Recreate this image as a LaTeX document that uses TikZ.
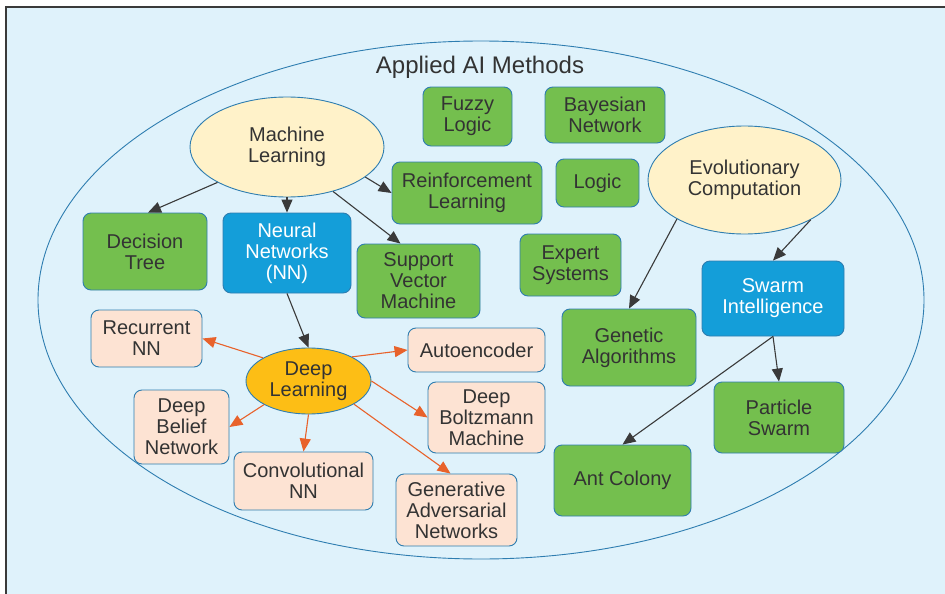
\documentclass[tikz,border=0pt]{standalone}
\usepackage{fontspec}
\setmainfont{Liberation Sans}
\usetikzlibrary{shapes.geometric,arrows.meta}

\definecolor{bgblue}{HTML}{DFF2FB}
\definecolor{framegray}{HTML}{3A3A3A}
\definecolor{lineblue}{HTML}{2E7DB0}
\definecolor{boxgreen}{HTML}{74BF4E}
\definecolor{boxblue}{HTML}{149ED9}
\definecolor{boxpeach}{HTML}{FDE3D3}
\definecolor{bubblecream}{HTML}{FFF2C9}
\definecolor{dlyellow}{HTML}{FDBE15}
\definecolor{arrorange}{HTML}{E8622B}
\definecolor{txtgray}{HTML}{333333}

\begin{document}
\begin{tikzpicture}[x=1pt,y=-1pt,
    every node/.style={font=\fontsize{20}{21}\selectfont,text=txtgray,align=center},
    box/.style={rectangle,rounded corners=8pt,draw=lineblue,line width=0.9pt,fill=boxgreen,inner sep=0pt},
    nnbox/.style={box,fill=boxblue,text=white},
    dlbox/.style={box,fill=boxpeach},
    bubble/.style={ellipse,draw=lineblue,line width=0.9pt,fill=bubblecream,inner sep=0pt},
    arr/.style={-{Triangle[length=13pt,width=11pt]},line width=1.1pt,draw=framegray},
    dlarr/.style={arr,draw=arrorange}
    ]

    \useasboundingbox (0,0) rectangle (945,594);
    \fill [bgblue] (6,7) rectangle (945,594);
    \draw [framegray,line width=1.6pt] (6,594) -- (6,7) -- (945,7);

    \node (methods) at (481,300) [ellipse,draw=lineblue,line width=0.9pt,minimum width=886pt,minimum height=518pt] {};
    \node (title) at (480,67) [font=\fontsize{24}{26}\selectfont] {Applied AI Methods};

    \node (ml) at (287,147) [bubble,minimum width=194pt,minimum height=100pt] {Machine\\Learning};
    \node (ec) at (744.5,180) [bubble,minimum width=193pt,minimum height=108pt] {Evolutionary\\Computation};
    \node (dl) at (308.5,381) [bubble,fill=dlyellow,minimum width=125pt,minimum height=66pt] {Deep\\Learning};

    \node (fuzzy) at (467.5,116.5) [box,minimum width=89pt,minimum height=59pt] {Fuzzy\\Logic};
    \node (bayes) at (605,115) [box,minimum width=120pt,minimum height=56pt] {Bayesian\\Network};
    \node (reinf) at (467,193) [box,minimum width=150pt,minimum height=62pt] {Reinforcement\\Learning};
    \node (logic) at (597.5,183) [box,minimum width=83pt,minimum height=48pt] {Logic};
    \node (dtree) at (145,251.5) [box,minimum width=124pt,minimum height=77pt] {Decision\\Tree};
    \node (nn) at (287,253) [nnbox,minimum width=128pt,minimum height=80pt] {Neural\\Networks\\(NN)};
    \node (svm) at (418.5,281) [box,minimum width=123pt,minimum height=74pt] {Support\\Vector\\Machine};
    \node (expert) at (570.5,265) [box,minimum width=101pt,minimum height=62pt] {Expert\\Systems};
    \node (swarm) at (773,298.5) [nnbox,minimum width=142pt,minimum height=75pt] {Swarm\\Intelligence};
    \node (genetic) at (629,347.5) [box,minimum width=134pt,minimum height=77pt] {Genetic\\Algorithms};
    \node (particle) at (779,417.5) [box,minimum width=130pt,minimum height=71pt] {Particle\\Swarm};
    \node (ant) at (622.5,480.5) [box,minimum width=137pt,minimum height=71pt] {Ant Colony};

    \node (recurrent) at (146.5,338.5) [dlbox,minimum width=111pt,minimum height=57pt] {Recurrent\\NN};
    \node (autoenc) at (476.5,350) [dlbox,minimum width=137pt,minimum height=44pt] {Autoencoder};
    \node (dbn) at (181.5,427) [dlbox,minimum width=95pt,minimum height=74pt] {Deep\\Belief\\Network};
    \node (dbm) at (486.5,417.5) [dlbox,minimum width=117pt,minimum height=71pt] {Deep\\Boltzmann\\Machine};
    \node (cnn) at (303.5,481) [dlbox,minimum width=139pt,minimum height=58pt] {Convolutional\\NN};
    \node (gan) at (456.5,510) [dlbox,minimum width=121pt,minimum height=72pt] {Generative\\Adversarial\\Networks};

    \draw [arr] (ml.207) to ([xshift=3pt]dtree.north);
    \draw [arr] (ml.south) to (nn.north);
    \draw [arr] (ml.-21) to (reinf.west);
    \draw [arr] (ml.-44) to ([xshift=-18pt]svm.north);
    \draw [arr] (nn.south) to (dl.north);
    \draw [arr] (ec.210) to (genetic.north);
    \draw [arr] (ec.-31) to (swarm.north);
    \draw [arr] (swarm.south) to (particle.north);
    \draw [arr] (swarm.south) to (ant.north);

    \draw [dlarr] (dl.153) to (recurrent.east);
    \draw [dlarr] (dl.29) to (autoenc.west);
    \draw [dlarr] (dl.208) to (dbn.east);
    \draw [dlarr] (dl.south) to (cnn.north);
    \draw [dlarr] (dl.east) to (dbm.west);
    \draw [dlarr] (dl.-27) to ([xshift=-6pt]gan.north);

  \end{tikzpicture}
\end{document}
